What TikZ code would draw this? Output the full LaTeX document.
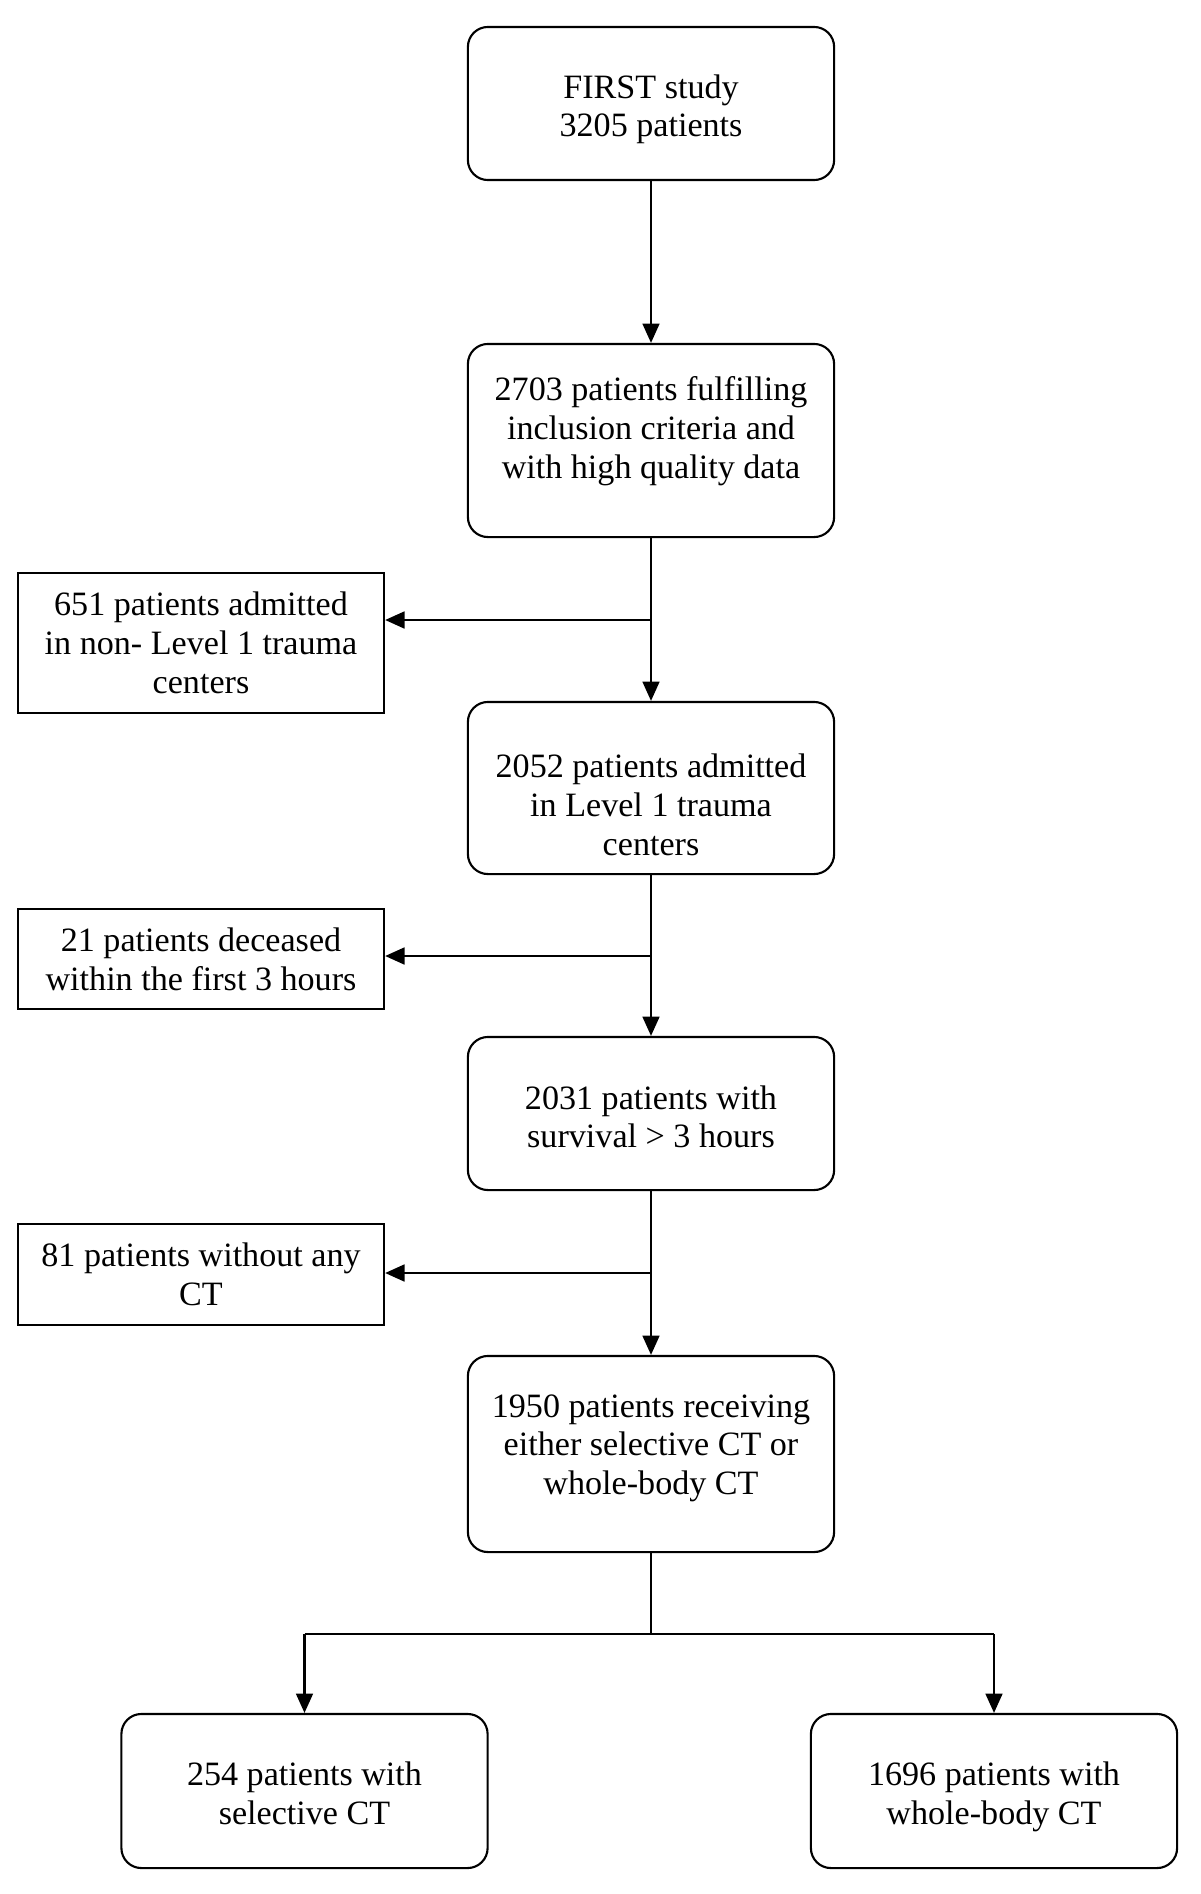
\documentclass[tikz,border=0pt]{standalone}
\usepackage{fontspec}
\setmainfont{Liberation Serif}
\usetikzlibrary{arrows.meta,positioning}

\newcommand{\toph}[1]{\rule{0pt}{#1}}

\tikzset{
	box/.style={draw, rounded corners=0.2cm, minimum width=3.66cm, align=center, line width=0.6pt, font=\fontsize{9.7}{11}\selectfont},
	side/.style={box, sharp corners},
	upw/.style={execute at end node={\rule[-#1]{0pt}{#1}}},
	arr/.style={-{Triangle[length=5.5pt,width=4.8pt]}, line width=0.6pt},
	lne/.style={line width=0.6pt}
}

\begin{document}
\begin{tikzpicture}[x=0.01cm,y=-0.01cm]
	\useasboundingbox (0,0) rectangle (1200,1894);

	\node[box,minimum height=1.53cm]	(first)	at (651,103.5)	{\toph{10pt}FIRST study\\3205 patients};
	\node[box,minimum height=1.93cm,upw=7.3pt]	(incl)	at (651,440.5)	{2703 patients fulfilling\\inclusion criteria and\\with high quality data};
	\node[box,minimum height=1.72cm]	(lvl1)	at (651,788)	{\toph{16.2pt}2052 patients admitted\\in Level 1 trauma\\centers};
	\node[box,minimum height=1.53cm]	(surv)	at (651,1113.5)	{\toph{8.6pt}2031 patients with\\survival > 3 hours};
	\node[box,minimum height=1.96cm,upw=5.5pt]	(ct)	at (651,1454)	{1950 patients receiving\\either selective CT or\\whole-body CT};
	\node[box,minimum height=1.54cm]	(sel)	at (304.5,1791)	{\toph{8pt}254 patients with\\selective CT};
	\node[box,minimum height=1.54cm]	(wb)	at (994,1791)	{\toph{10pt}1696 patients with\\whole-body CT};

	\node[side,minimum height=1.40cm]	(non)	at (201,643)	{651 patients admitted\\in non- Level 1 trauma\\centers};
	\node[side,minimum height=1.00cm]	(dec)	at (201,959)	{21 patients deceased\\within the first 3 hours};
	\node[side,minimum height=1.01cm]	(noct)	at (201,1274.5)	{81 patients without any\\CT};

	\coordinate (b1) at (651,620);
	\coordinate (b2) at (651,956);
	\coordinate (b3) at (651,1273);
	\coordinate (sp) at (651,1634);

	\draw[arr]	(first) -- (incl);
	\draw[arr]	(incl) -- (lvl1);
	\draw[arr]	(lvl1) -- (surv);
	\draw[arr]	(surv) -- (ct);
	\draw[arr]	(b1) -- (non.east |- b1);
	\draw[arr]	(b2) -- (dec.east |- b2);
	\draw[arr]	(b3) -- (noct.east |- b3);

	\draw[lne]	(ct) -- (sp);
	\draw[lne]	(sel |- sp) -- (wb |- sp);
	\draw[arr]	(sel |- sp) -- (sel);
	\draw[arr]	(wb |- sp) -- (wb);
\end{tikzpicture}
\end{document}
